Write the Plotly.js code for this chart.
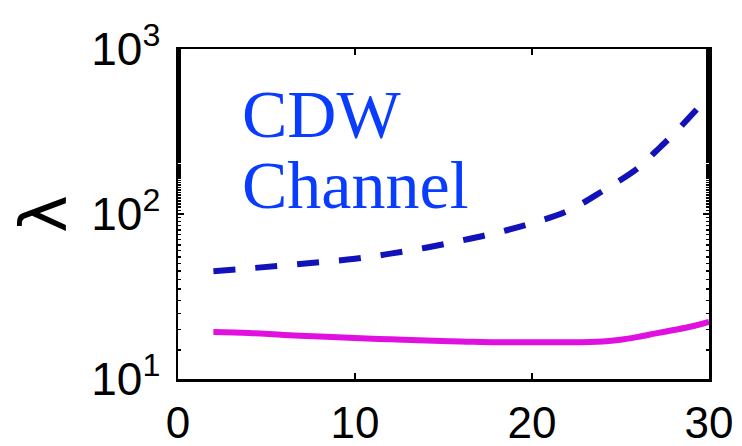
<!DOCTYPE html>
<html>
<head>
<meta charset="utf-8">
<script src="https://cdn.plot.ly/plotly-3.0.1.min.js"></script>
<style>html,body{margin:0;padding:0;background:#fff;}#chart{width:742px;height:446px;}</style>
</head>
<body>
<div id="chart"></div>
<script>
const cdwX = [2, 4, 6, 8, 10, 12, 14, 16, 18, 20, 22, 24, 26, 27, 28, 29.3];
const cdwY = [45, 46.8, 48.8, 51, 53.5, 57.5, 62.5, 69, 77, 88, 104, 138, 190, 240, 305, 430];
const magX = [2, 4, 6, 8, 10, 12, 14, 16, 18, 20, 22, 24, 25, 26, 27, 28, 29, 30];
const magY = [19.3, 19.0, 18.5, 18.1, 17.7, 17.4, 17.1, 16.9, 16.7, 16.7, 16.7, 16.9, 17.3, 18.0, 18.9, 19.8, 20.8, 22.2];
const xTicks = [0, 10, 20, 30];
const yTicks = [10, 100, 1000];
const yTickText = ['10<sup>1</sup>', '10<sup>2</sup>', '10<sup>3</sup>'];
const labelLines = ["CDW", "Channel"];

const traces = [
  {x: magX, y: magY, mode: 'lines', line: {color: '#e010e0', width: 6, shape: 'spline'}, hoverinfo: 'none'},
  {x: cdwX, y: cdwY, mode: 'lines', line: {color: '#1212bb', width: 6, dash: '22px,20px', shape: 'spline'}, hoverinfo: 'none'}
];

const layout = {
  width: 742, height: 446,
  margin: {l: 178, r: 33, t: 49, b: 67, pad: 0},
  paper_bgcolor: '#fff', plot_bgcolor: '#fff',
  showlegend: false,
  xaxis: {
    range: [0, 30], tickvals: xTicks, ticktext: xTicks.map(String),
    showgrid: false, zeroline: false, showline: true, linecolor: '#000', linewidth: 2.5,
    mirror: 'ticks', ticks: 'inside', ticklen: 6, tickwidth: 2, tickcolor: '#000',
    tickfont: {family: 'Liberation Sans, Arial, sans-serif', size: 44, color: '#000'}, ticklabelstandoff: 4
  },
  yaxis: {
    type: 'log', range: [1, 3], tickvals: yTicks, ticktext: yTickText,
    showgrid: false, zeroline: false, showline: true, linecolor: '#000', linewidth: 2.5,
    mirror: 'ticks', ticks: 'inside', ticklen: 6, tickwidth: 2, tickcolor: '#000',
    tickfont: {family: 'Liberation Sans, Arial, sans-serif', size: 46, color: '#000'}, ticklabelstandoff: 6,
    minor: {ticks: 'inside', ticklen: 3, tickwidth: 1.5, tickcolor: '#000', showgrid: false},
    title: {text: 'λ', font: {family: 'DejaVu Sans, sans-serif', size: 64, color: '#000'}, standoff: 4}
  },
  annotations: labelLines.map((t, i) => ({
    xref: 'x', yref: 'paper', x: 3.5, y: 0.803 - i * 0.215, xanchor: 'left', yanchor: 'middle',
    text: t, showarrow: false,
    font: {family: 'Liberation Serif, Times New Roman, serif', size: 68, color: '#0a3cff'}
  }))
};

Plotly.newPlot('chart', traces, layout, {staticPlot: true, displayModeBar: false});
</script>
</body>
</html>
